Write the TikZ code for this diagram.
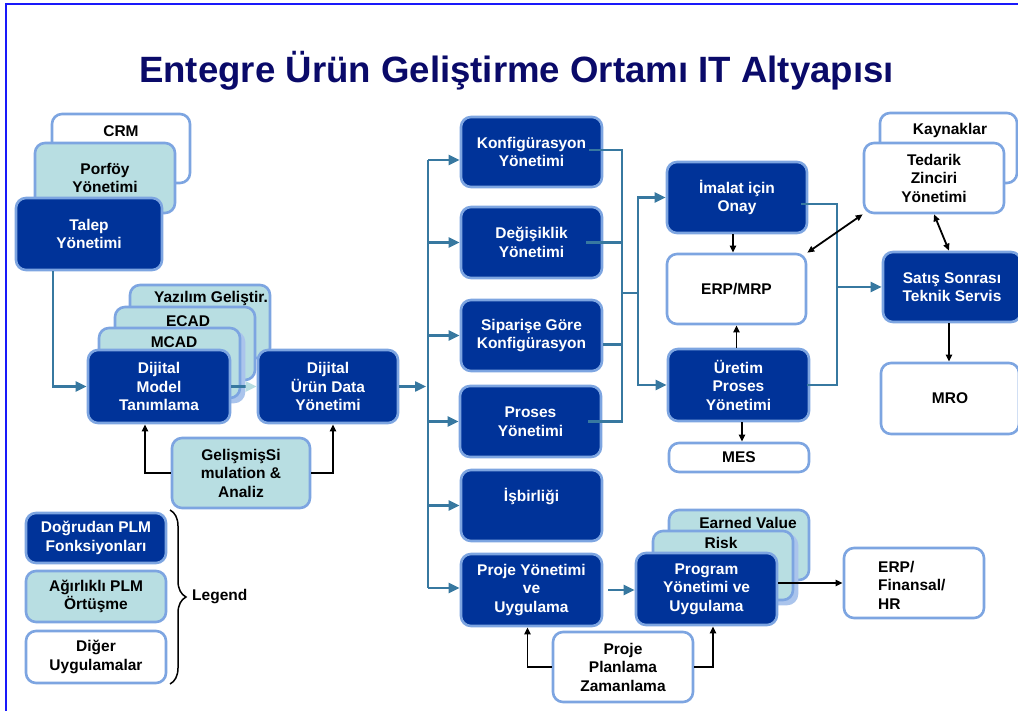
\documentclass[tikz,border=0pt]{standalone}
\usepackage{fontspec}
\setmainfont{Liberation Sans}
\usetikzlibrary{arrows.meta,decorations.pathreplacing,calc}
\definecolor{dk}{RGB}{0,51,153}
\definecolor{tl}{RGB}{184,222,226}
\definecolor{bd}{RGB}{125,165,225}
\definecolor{sbc}{RGB}{55,120,160}
\definecolor{ttl}{RGB}{10,10,105}
\definecolor{frm}{RGB}{25,25,250}
\definecolor{shd}{RGB}{170,196,236}
\begin{document}
\begin{tikzpicture}[x=1pt,y=-1pt,
 box/.style={draw=bd, line width=2.6pt, rounded corners=10pt, font=\fontsize{15.5}{18.5}\selectfont\bfseries, align=center, inner sep=0pt},
 dkbox/.style={box, fill=dk, text=white},
 tlbox/.style={box, fill=tl, text=black},
 whbox/.style={box, fill=white, text=black},
 shbox/.style={box, draw=shd, fill=shd},
 lbl/.style={font=\fontsize{15.5}{18.5}\selectfont\bfseries, align=center, inner sep=0pt},
 sbline/.style={draw=sbc, line width=2.4pt},
 sbarr/.style={sbline, -{Triangle[length=11pt,width=10pt]}},
 blk/.style={draw=black, line width=1.8pt, -{Triangle[length=7pt,width=6pt]}},
 blktwo/.style={draw=black, line width=1.8pt, {Triangle[length=7pt,width=6pt]}-{Triangle[length=7pt,width=6pt]}},
]
\useasboundingbox (0,0) rectangle (1018,711);
\fill[white] (0,0) rectangle (1018,711);
\draw[frm, line width=2pt] (6,711) -- (6,4) -- (1018,4);

\node[font=\fontsize{36.6}{40}\selectfont\bfseries, text=ttl, anchor=base, inner sep=0pt] (title) at (516.5,83) {Entegre Ürün Geliştirme Ortamı IT Altyapısı};

% left stack
\node[whbox, minimum width=138, minimum height=69] (crm) at (121,148.5) {};
\node[lbl] (crmT) at (121,131) {CRM};
\node[tlbox, minimum width=140, minimum height=70] (porf) at (105,178) {Porföy\\Yönetimi};
\node[dkbox, minimum width=146, minimum height=72] (talep) at (89,234) {Talep\\Yönetimi};

\node[tlbox, minimum width=140, minimum height=73] (yaz) at (200,321.5) {};
\node[lbl] (yazT) at (211,298) {Yazılım Geliştir.};
\node[tlbox, minimum width=140, minimum height=73] (ecad) at (185,343.5) {};
\node[lbl] (ecadT) at (188,321) {ECAD};
\node[shbox, minimum width=141, minimum height=70] (mcadS) at (173.5,367) {};
\node[tlbox, minimum width=141, minimum height=70] (mcad) at (169.5,363) {};
\node[lbl] (mcadT) at (174,342) {MCAD};
\node[dkbox, minimum width=142, minimum height=73] (dmt) at (159,386.5) {Dijital\\Model\\Tanımlama};
\node[dkbox, minimum width=140, minimum height=73] (dud) at (328,386.5) {Dijital\\Ürün Data\\Yönetimi};
\node[tlbox, minimum width=138, minimum height=70] (gel) at (241,473) {GelişmişSi\\mulation \&\\Analiz};

% middle column
\node[dkbox, minimum width=141, minimum height=70] (konf) at (531.5,152) {Konfigürasyon\\Yönetimi};
\node[dkbox, minimum width=141, minimum height=71] (deg) at (531.5,242.5) {Değişiklik\\Yönetimi};
\node[dkbox, minimum width=141, minimum height=71] (sip) at (531.5,335.5) {Siparişe Göre\\Konfigürasyon};
\node[dkbox, minimum width=141, minimum height=71] (pros) at (530.5,421.5) {Proses\\Yönetimi};
\node[dkbox, minimum width=141, minimum height=71] (isb) at (531.5,505.5) {};
\node[lbl, text=white] (isbT) at ([yshift=8.5pt]isb.center) {İşbirliği};
\node[dkbox, minimum width=141, minimum height=72] (proje) at (531.5,590) {Proje Yönetimi\\ve\\Uygulama};

% program stack
\node[tlbox, minimum width=140, minimum height=70] (ev) at (739,545) {};
\node[lbl] (evT) at (748,523) {Earned Value};
\node[shbox, minimum width=140, minimum height=69] (riskS) at (727,569.5) {};
\node[tlbox, minimum width=140, minimum height=69] (risk) at (723,565.5) {};
\node[lbl] (riskT) at (721,543) {Risk};
\node[dkbox, minimum width=141, minimum height=72] (prog) at (706.5,589) {Program\\Yönetimi ve\\Uygulama};
\node[whbox, minimum width=140, minimum height=70] (plan) at (623,667) {Proje\\Planlama\\Zamanlama};
\node[whbox, minimum width=140, minimum height=70] (erpfin) at (914,583) {};
\node[lbl, align=left, anchor=west] (erpfinT) at (878,585) {ERP/\\Finansal/\\HR};

% right part
\node[dkbox, minimum width=140, minimum height=71] (imalat) at (737,197.5) {İmalat için\\Onay};
\node[whbox, minimum width=139, minimum height=70] (erp) at (736.5,289) {ERP/MRP};
\node[dkbox, minimum width=141, minimum height=72] (uretim) at (738.5,385) {Üretim\\Proses\\Yönetimi};
\node[whbox, minimum width=140, minimum height=29] (mes) at (739,457.5) {MES};
\node[whbox, minimum width=137, minimum height=70] (kay) at (948.5,148) {};
\node[lbl] (kayT) at (950,130) {Kaynaklar};
\node[whbox, minimum width=140, minimum height=70] (ted) at (934,178) {Tedarik\\Zinciri\\Yönetimi};
\node[dkbox, minimum width=138, minimum height=70] (satis) at (952,287) {Satış Sonrası\\Teknik Servis};
\node[whbox, minimum width=138, minimum height=71] (mro) at (950,398.5) {MRO};

% legend
\node[dkbox, minimum width=140, minimum height=50] (leg1) at (96,538) {Doğrudan PLM\\Fonksiyonları};
\node[tlbox, minimum width=140, minimum height=51] (leg2) at (96,596.5) {Ağırlıklı PLM\\Örtüşme};
\node[whbox, minimum width=140, minimum height=52] (leg3) at (96,657) {Diğer\\Uygulamalar};
\draw[decorate, decoration={brace, amplitude=16pt, aspect=0.5}, line width=1.5pt] (170,510) -- (170,684);
\node[lbl, anchor=west] (legend) at (192,597) {Legend};

% steel blue connectors
\draw[sbarr] ([xshift=38pt]talep.south west) |- (dmt.west);
\draw[sbline, -{Triangle[length=11pt,width=10pt,color=tl]}] (dmt.east) -- (dud.west);
\coordinate (busL) at (428,386.5);
\coordinate (busT) at (428,160);
\coordinate (busB) at (428,588);
\draw[sbarr, shorten >=2pt] (dud.east) -- (busL);
\draw[sbline] (busT) -- (busB);
\draw[sbarr] (busT) -- (busT -| konf.west);
\draw[sbarr] (busT |- deg.west) -- (deg.west);
\draw[sbarr] (busT |- sip.west) -- (sip.west);
\draw[sbarr] (busT |- pros.west) -- (pros.west);
\draw[sbarr] (busT |- isb.west) -- (isb.west);
\draw[sbarr] (busB) -- (busB -| proje.west);

\coordinate (colR) at (622,293);
\coordinate (colRb) at (638,293);
\draw[sbline] ([xshift=-14pt,yshift=2pt]konf.east) -| (colR);
\draw[sbline] ([xshift=-17pt]deg.east) -| (colR);
\draw[sbline] ([yshift=-9pt]sip.east) -| (colR);
\draw[sbline] ([xshift=-14pt]pros.east) -| (colR);
\draw[sbline] (colR) -- (colRb);
\draw[sbarr] (colRb) |- (imalat.west);
\draw[sbarr] (colRb) |- (uretim.west);

\coordinate (colS) at (837,287);
\draw[sbline] ([xshift=-7pt,yshift=-6.5pt]imalat.east) -| (colS);
\draw[sbline] ([xshift=-3pt]uretim.east) -| (colS);
\draw[sbarr] (colS) -- (satis.west);
\draw[sbarr, shorten <=5pt] (proje.east) -- (proje.east -| prog.west);

% black connectors
\draw[blk] ([xshift=-4pt]imalat.south) -- ([xshift=-3.5pt]erp.north);
\draw[blk] (uretim.north -| erp.south) -- (erp.south);
\draw[blk] ([xshift=3.5pt]uretim.south) -- ([xshift=3.5pt]uretim.south |- mes.north);
\draw[blktwo] (erp.north east) -- (ted.south west);
\draw[blktwo] (ted.south) -- ([xshift=-3pt]satis.north);
\draw[blk] ([xshift=-3pt]satis.south) -- ([xshift=-3pt]satis.south |- mro.north);
\draw[blk] (prog.east |- erpfin.west) -- (erpfin.west);
\draw[blk] (plan.west) -| ([xshift=-4pt]proje.south);
\draw[blk] (plan.east) -| ([xshift=6.5pt]prog.south);
\draw[blk] (gel.west) -| ([xshift=-14pt]dmt.south);
\draw[blk] (gel.east) -| ([xshift=5pt]dud.south);
\end{tikzpicture}
\end{document}
